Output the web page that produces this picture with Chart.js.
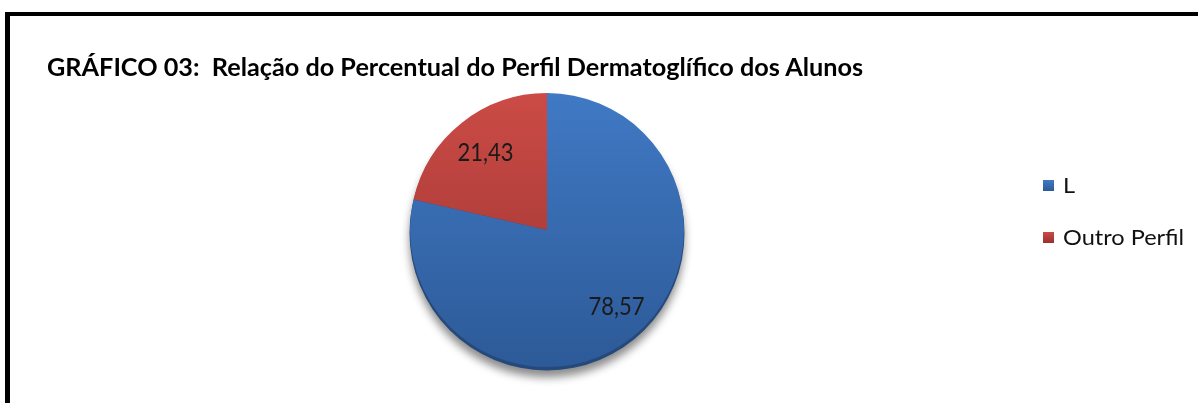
<!DOCTYPE html>
<html>
<head>
<meta charset="utf-8">
<script src="https://cdn.jsdelivr.net/npm/chart.js@4.4.1/dist/chart.umd.min.js"></script>
<style>
  html, body { margin: 0; padding: 0; background: #fff; }
  #wrap { position: relative; width: 1198px; height: 403px; overflow: hidden; }
  #frame { position: absolute; left: 5px; top: 12px; width: 1300px; height: 500px;
           border-left: 5px solid #000; border-top: 4px solid #000; box-sizing: border-box; }
  canvas { position: absolute; left: 0; top: 0; }
</style>
</head>
<body>
<div id="wrap">
  <div id="frame"></div>
  <canvas id="c" width="1198" height="403"></canvas>
</div>
<script>
const titleText = 'GRÁFICO 03:  Relação do Percentual do Perfil Dermatoglífico dos Alunos';
const categories = ['L', 'Outro Perfil'];
const values = [78.57, 21.43];
const valueLabels = ['78,57', '21,43'];
const colorTop = ['#4079c4', '#cc4b46'];
const colorBottom = ['#2d5a98', '#973230'];

function grad(ctx, i) {
  const chart = ctx.chart;
  const a = chart.chartArea;
  if (!a) return colorTop[i];
  const g = chart.ctx.createLinearGradient(0, a.top, 0, a.bottom);
  g.addColorStop(0, colorTop[i]);
  g.addColorStop(1, colorBottom[i]);
  return g;
}

// draw text squeezed/stretched horizontally to a target width
function fitText(c, text, x, y, targetW, align) {
  const w = c.measureText(text).width;
  const s = targetW / w;
  c.save();
  c.textAlign = 'left';
  let x0 = x;
  if (align === 'center') x0 = x - targetW / 2;
  c.translate(x0, y);
  c.scale(s, 1);
  c.fillText(text, 0, 0);
  c.restore();
}

const decor = {
  id: 'decor',
  beforeDatasetsDraw(chart) {
    const arc = chart.getDatasetMeta(0).data[0];
    if (!arc) return;
    const c = chart.ctx;
    c.save();
    c.beginPath();
    c.arc(arc.x, arc.y + 3, arc.outerRadius + 0.5, 0, Math.PI * 2);
    c.fillStyle = '#26497c';
    c.shadowColor = 'rgba(0,0,0,0.45)';
    c.shadowBlur = 8;
    c.shadowOffsetY = 7;
    c.fill();
    c.restore();
  },
  afterDraw(chart) {
    const c = chart.ctx;
    c.save();
    c.fontKerning = 'normal';
    // title
    c.fillStyle = '#000';
    c.font = 'bold 25px Lato, "Open Sans", sans-serif';
    c.textBaseline = 'alphabetic';
    fitText(c, titleText, 47, 76, 816, 'left');
    // value labels
    const meta = chart.getDatasetMeta(0);
    c.font = '25px Lato, "Open Sans", sans-serif';
    c.fillStyle = '#1a1a1a';
    c.textBaseline = 'middle';
    meta.data.forEach((arc, i) => {
      const mid = (arc.startAngle + arc.endAngle) / 2;
      const r = arc.outerRadius * 0.72;
      fitText(c, valueLabels[i], arc.x + Math.cos(mid) * r + (i === 0 ? 8 : 0), arc.y + Math.sin(mid) * r, 56, 'center');
    });
    // legend
    c.font = '21px Lato, "Open Sans", sans-serif';
    c.textBaseline = 'alphabetic';
    categories.forEach((lab, i) => {
      const y = 185 + i * 52;
      const g = c.createLinearGradient(0, y - 5, 0, y + 6);
      g.addColorStop(0, colorTop[i]);
      g.addColorStop(1, colorBottom[i]);
      c.fillStyle = g;
      c.fillRect(1043, y - 5, 11, 11);
      c.fillStyle = '#111';
      const w = c.measureText(lab).width;
      fitText(c, lab, 1063, y + 8, w * 1.12, 'left');
    });
    c.restore();
  }
};

new Chart(document.getElementById('c'), {
  type: 'pie',
  data: {
    labels: categories,
    datasets: [{
      data: values,
      backgroundColor: (ctx) => grad(ctx, ctx.dataIndex),
      borderWidth: 0
    }]
  },
  options: {
    responsive: false,
    animation: false,
    layout: { padding: { top: 93, bottom: 36, left: 400, right: 504 } },
    plugins: { legend: { display: false }, tooltip: { enabled: false } }
  },
  plugins: [decor]
});
</script>
</body>
</html>
